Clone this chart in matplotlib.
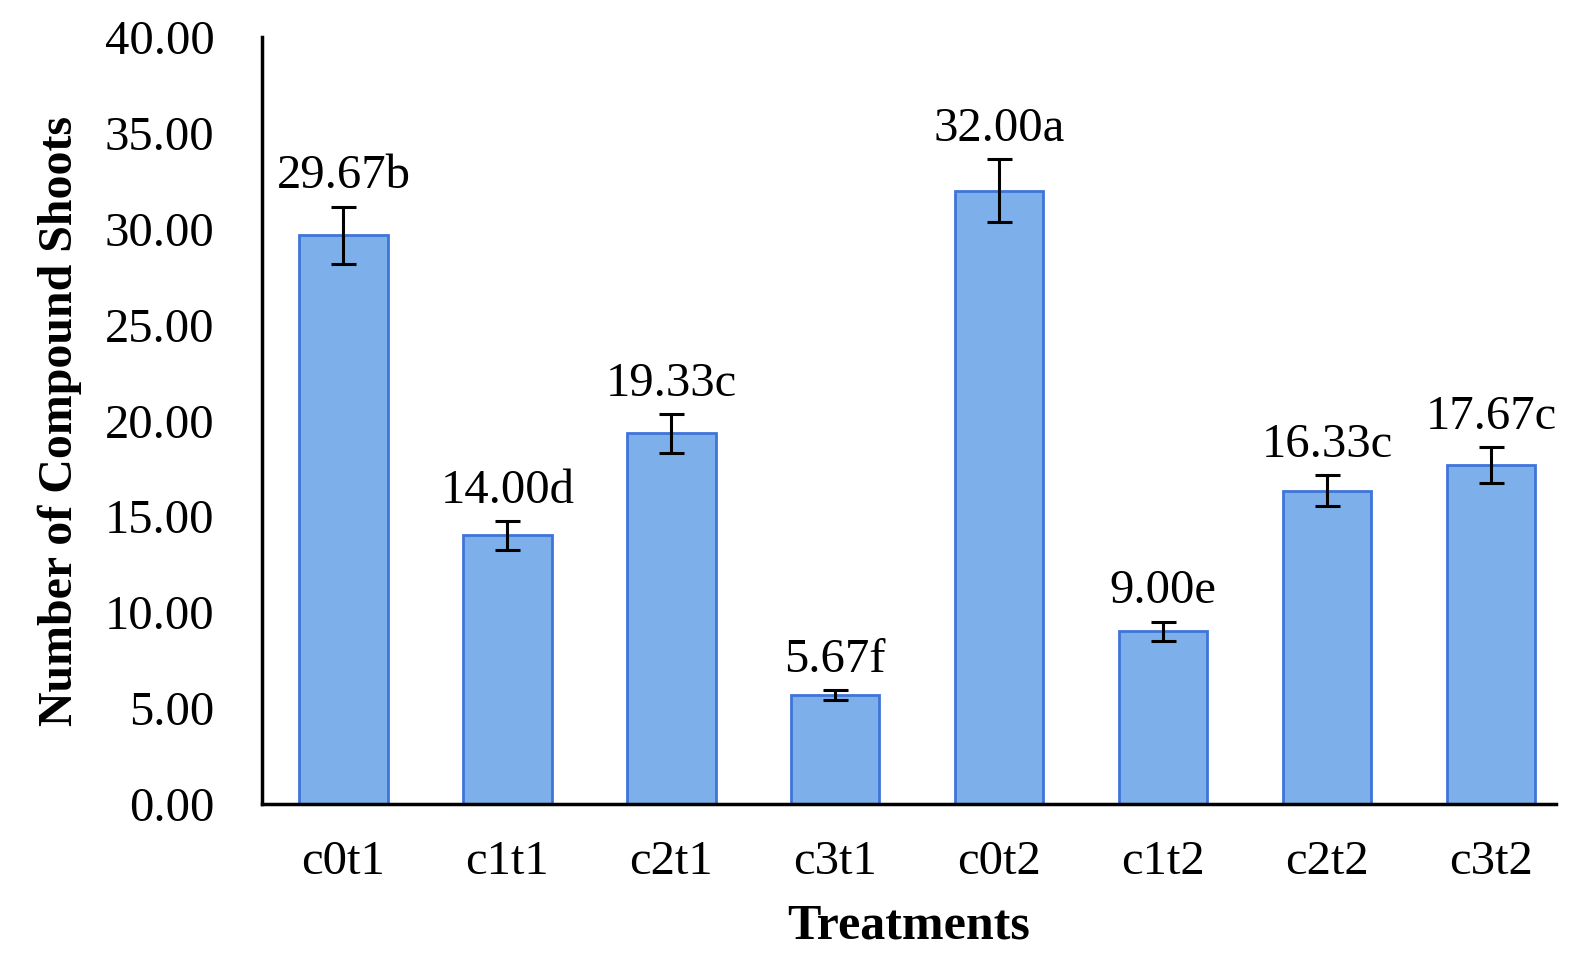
import matplotlib
matplotlib.use('Agg')
import matplotlib.pyplot as plt

treatments = ['c0t1', 'c1t1', 'c2t1', 'c3t1', 'c0t2', 'c1t2', 'c2t2', 'c3t2']
means = [29.67, 14.00, 19.33, 5.67, 32.00, 9.00, 16.33, 17.67]
errors = [1.5, 0.75, 1.0, 0.25, 1.65, 0.5, 0.8, 0.95]
letters = ['b', 'd', 'c', 'f', 'a', 'e', 'c', 'c']

plt.rcParams['font.family'] = ['Liberation Serif', 'DejaVu Serif']

fig = plt.figure(figsize=(15.85, 9.59), dpi=100)
ax = fig.add_axes([0.165, 0.162, 0.817, 0.799])

x = range(len(treatments))
ax.bar(x, means, width=0.54, color='#7DB0EA', edgecolor='#3F74D8', linewidth=2,
       yerr=errors, error_kw=dict(ecolor='black', elinewidth=2.2, capsize=9, capthick=2.2))

for i, (m, e, l) in enumerate(zip(means, errors, letters)):
    ax.annotate(f'{m:.2f}{l}', (i, m + e), xytext=(0, 6), textcoords='offset points',
                ha='center', va='bottom', fontsize=35)

ax.set_ylim(0, 40)
ax.set_xlim(-0.5, 7.4)
ax.set_yticks(range(0, 41, 5))
ax.set_yticklabels([f'{v:.2f}' for v in range(0, 41, 5)])
ax.set_xticks(list(x))
ax.set_xticklabels(treatments)
ax.tick_params(axis='both', length=0, labelsize=35)
ax.tick_params(axis='y', pad=34)
ax.tick_params(axis='x', pad=26)

for s in ['top', 'right']:
    ax.spines[s].set_visible(False)
for s in ['left', 'bottom']:
    ax.spines[s].set_linewidth(2.5)

ax.set_xlabel('Treatments', fontsize=36, fontweight='bold', labelpad=14)
ax.set_ylabel('Number of Compound Shoots', fontsize=34.5, fontweight='bold', labelpad=16)

fig.savefig('out.png', dpi=100)
